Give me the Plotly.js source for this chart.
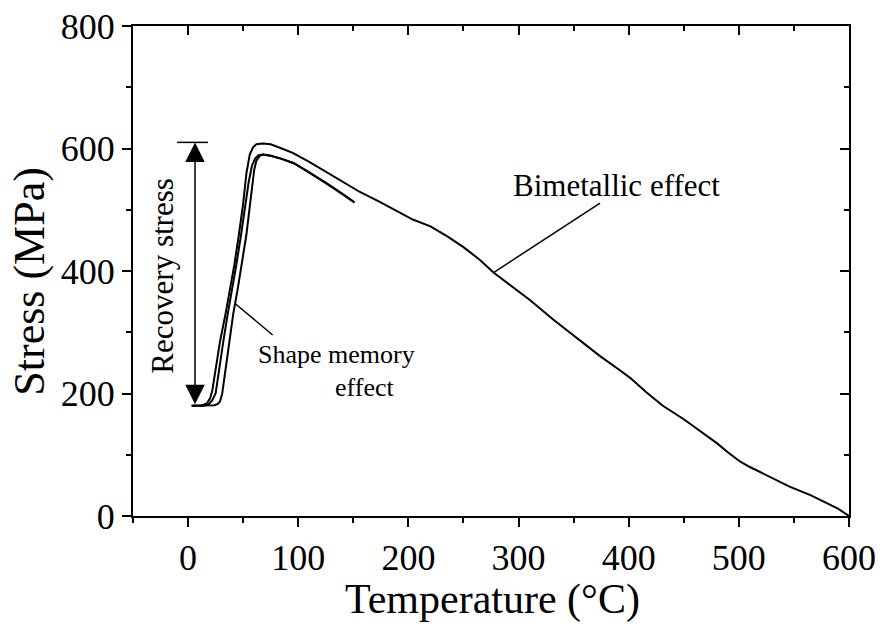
<!DOCTYPE html>
<html><head><meta charset="utf-8">
<script src="https://cdn.plot.ly/plotly-3.0.1.min.js"></script>
<style>html,body{margin:0;padding:0;background:#fff;}</style>
</head><body><div id="chart" style="width:882px;height:626px;"></div>
<script>
// Bimetallic curve (heated to 600 °C)
const tempA = [3, 12, 17, 20, 22, 25, 29, 34, 38, 42, 46, 50, 53, 56, 59, 62, 68, 75, 85, 95, 110, 125, 140, 156, 174, 190, 204, 220, 235, 250, 265, 277, 295, 310, 332, 356, 374, 392, 401, 416, 431, 450, 465, 480, 490, 501, 510, 525, 546, 565, 580, 590, 600];
const stressA = [180, 180, 184, 192, 205, 240, 285, 330, 368, 410, 458, 510, 560, 590, 602, 607, 608, 607, 600, 593, 578, 562, 546, 529, 513, 497, 484, 473, 457, 439, 418, 398, 374, 353, 320, 287, 261, 238, 226, 202, 180, 158, 138, 119, 104, 89, 80, 67, 48, 34, 21, 12, 0];
// Shape memory curves (heated to 150 °C)
const tempB = [4, 14, 19, 22, 25, 28, 32, 36, 40, 44, 48, 52, 55, 58, 61, 64, 68, 75, 85, 96, 110, 126, 140, 151];
const stressB = [180, 180, 183, 189, 200, 238, 285, 330, 370, 412, 458, 505, 545, 572, 584, 589, 590, 588, 583, 576, 561, 543, 526, 512];
const tempC = [4, 18, 24, 27, 29, 31, 34, 37, 41, 45, 49, 53, 56, 58, 60, 62, 65, 68, 75, 85, 96, 110, 126, 140, 151];
const stressC = [180, 180, 181, 183, 187, 200, 240, 280, 330, 370, 415, 460, 505, 540, 565, 580, 588, 590, 588, 583, 576, 561, 543, 526, 512];

const xTicks = [0, 100, 200, 300, 400, 500, 600];
const yTicks = [0, 200, 400, 600, 800];

const FONT = 'Liberation Serif, Times New Roman, serif';
const lineStyle = {color: '#000', width: 2};
const traces = [
  {x: tempA, y: stressA, mode: 'lines', line: lineStyle, hoverinfo: 'skip'},
  {x: tempB, y: stressB, mode: 'lines', line: lineStyle, hoverinfo: 'skip'},
  {x: tempC, y: stressC, mode: 'lines', line: lineStyle, hoverinfo: 'skip'},
  {x: [null], y: [null], xaxis: 'x2', yaxis: 'y2', mode: 'lines', hoverinfo: 'skip'}
];

const axBase = {showgrid: false, zeroline: false, showline: true, linecolor: '#000', linewidth: 2,
  tickcolor: '#000', tickwidth: 2, fixedrange: true};

const layout = {
  width: 882, height: 626,
  margin: {l: 133, r: 33, t: 26, b: 110},
  paper_bgcolor: '#fff', plot_bgcolor: '#fff',
  showlegend: false,
  font: {family: FONT, color: '#000'},
  xaxis: Object.assign({}, axBase, {
    range: [-50, 600], autorange: false,
    tickmode: 'array', tickvals: xTicks, ticktext: xTicks.map(String),
    ticks: 'outside', ticklen: 9,
    minor: {dtick: 50, tick0: -50, ticks: 'outside', ticklen: 5, tickcolor: '#000', tickwidth: 2, showgrid: false},
    tickfont: {family: FONT, size: 36, color: '#000'}
  }),
  yaxis: Object.assign({}, axBase, {
    range: [0, 800], autorange: false,
    tickmode: 'array', tickvals: yTicks, ticktext: yTicks.map(String),
    ticks: 'outside', ticklen: 9,
    minor: {dtick: 100, tick0: 0, ticks: 'outside', ticklen: 5, tickcolor: '#000', tickwidth: 2, showgrid: false},
    tickfont: {family: FONT, size: 36, color: '#000'}
  }),
  xaxis2: Object.assign({}, axBase, {
    overlaying: 'x', side: 'top', anchor: 'y2',
    range: [-50, 600], autorange: false,
    dtick: 100, tick0: 0, ticks: 'inside', ticklen: 9, showticklabels: false,
    minor: {dtick: 50, tick0: -50, ticks: 'inside', ticklen: 5, tickcolor: '#000', tickwidth: 2, showgrid: false}
  }),
  yaxis2: Object.assign({}, axBase, {
    overlaying: 'y', side: 'right', anchor: 'x2',
    range: [0, 800], autorange: false,
    dtick: 200, tick0: 0, ticks: 'inside', ticklen: 9, showticklabels: false,
    minor: {dtick: 100, tick0: 0, ticks: 'inside', ticklen: 5, tickcolor: '#000', tickwidth: 2, showgrid: false}
  }),
  shapes: [
    {type: 'line', xref: 'x', yref: 'y', x0: -10, x1: 18, y0: 610, y1: 610, line: {color: '#000', width: 1.5}},
    {type: 'line', xref: 'x', yref: 'y', x0: 374, y0: 511, x1: 277, y1: 397, line: {color: '#000', width: 1.5}},
    {type: 'line', xref: 'x', yref: 'y', x0: 42.6, y0: 347, x1: 76.8, y1: 295.5, line: {color: '#000', width: 1.5}}
  ],
  annotations: [
    {x: 6.3, y: 610, ax: 6.3, ay: 180, xref: 'x', yref: 'y', axref: 'x', ayref: 'y',
     text: '', showarrow: true, arrowside: 'end+start', arrowhead: 2, startarrowhead: 2,
     arrowsize: 2.6, startarrowsize: 2.6, arrowwidth: 1.5, arrowcolor: '#000'},
    {x: 389, y: 540, xref: 'x', yref: 'y', text: 'Bimetallic effect', showarrow: false,
     xanchor: 'center', yanchor: 'middle', font: {family: FONT, size: 31, color: '#000'}},
    {x: 135, y: 263, xref: 'x', yref: 'y', text: 'Shape memory', showarrow: false,
     xanchor: 'center', yanchor: 'middle', font: {family: FONT, size: 26, color: '#000'}},
    {x: 160, y: 210, xref: 'x', yref: 'y', text: 'effect', showarrow: false,
     xanchor: 'center', yanchor: 'middle', font: {family: FONT, size: 26, color: '#000'}},
    {x: -23, y: 392, xref: 'x', yref: 'y', text: 'Recovery stress', showarrow: false, textangle: -90,
     xanchor: 'center', yanchor: 'middle', font: {family: FONT, size: 31, color: '#000'}},
    {x: 0.502, y: -0.171, xref: 'paper', yref: 'paper', text: 'Temperature (°C)', showarrow: false,
     xanchor: 'center', yanchor: 'middle', font: {family: FONT, size: 42, color: '#000'}},
    {x: -0.144, y: 0.48, xref: 'paper', yref: 'paper', text: 'Stress (MPa)', showarrow: false, textangle: -90,
     xanchor: 'center', yanchor: 'middle', font: {family: FONT, size: 44, color: '#000'}}
  ]
};

Plotly.newPlot('chart', traces, layout, {staticPlot: true, displayModeBar: false});
</script>
</body></html>
